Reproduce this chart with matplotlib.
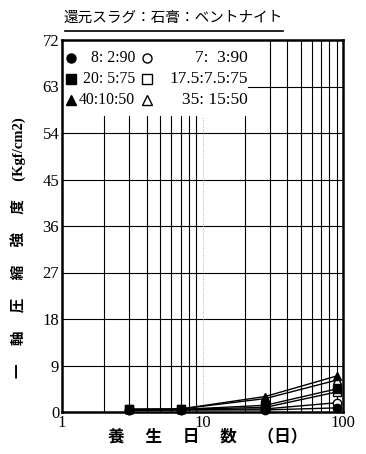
import matplotlib.pyplot as plt
import numpy as np

plt.rcParams['font.family'] = ['Liberation Serif', 'Noto Sans CJK JP']

days = [3, 7, 28, 91]
series_names = ['8: 2:90', '7:  3:90', '20: 5:75', '17.5:7.5:75', '40:10:50', '35: 15:50']
strength = [
    [0.3, 0.4, 0.4, 0.8],   # filled circle
    [0.3, 0.4, 0.6, 1.8],   # open circle
    [0.5, 0.5, 1.3, 4.5],   # filled square
    [0.5, 0.5, 0.9, 3.9],   # open square
    [0.5, 0.6, 3.0, 7.0],   # filled triangle
    [0.5, 0.6, 2.6, 6.2],   # open triangle
]
markers = ['o', 'o', 's', 's', '^', '^']
filled = [True, False, True, False, True, False]
y_ticks = [0, 9, 18, 27, 36, 45, 54, 63, 72]

fig = plt.figure(figsize=(3.66, 4.54), dpi=100)
ax = fig.add_axes([62 / 366, 1 - 412 / 454, 281 / 366, 372 / 454])
ax.set_xscale('log')
ax.set_xlim(1, 100)
ax.set_ylim(0, 72)

# grid (legend area in the upper left is blank)
for y in y_ticks[1:-1]:
    xmin = 186 / 281 if y == 63 else 0
    ax.axhline(y, xmin=xmin, color='black', lw=0.8, zorder=1)
for d in list(range(2, 10)) + list(range(20, 100, 10)):
    top = 1.0 if d >= 30 else 57.3 / 72
    ax.axvline(d, ymax=top, color='black', lw=0.8, zorder=1)
ax.axvline(10, ymax=57.3 / 72, color='0.6', lw=0.6, ls=':', zorder=1)

order = [5, 3, 1, 4, 2, 0]
for k, i in enumerate(order):
    ax.plot(days, strength[i], color='black', lw=1.0, marker=markers[i], ms=6,
            mfc='black' if filled[i] else 'white', mec='black', mew=1.0,
            zorder=3 + k * 0.1, clip_on=False)

for s in ax.spines.values():
    s.set_linewidth(1.8)
ax.set_yticks(y_ticks)
ax.set_xticks([1, 10, 100])
ax.set_xticklabels(['1', '10', '100'])
ax.minorticks_off()
ax.tick_params(length=0, labelsize=12, pad=2)

# legend text
rows = [(58, 0), (79, 2), (100, 4)]
for ypix, i in rows:
    yy = 1 - (ypix - 40) / 372
    ax.plot([9 / 281], [yy], transform=ax.transAxes, marker=markers[i], ms=6.5,
            mfc='black', mec='black', ls='none', clip_on=False, zorder=5)
    ax.text(73 / 281, yy, series_names[i], transform=ax.transAxes, fontsize=11.3,
            va='center', ha='right')
    ax.plot([85 / 281], [yy], transform=ax.transAxes, marker=markers[i + 1], ms=6.5,
            mfc='white', mec='black', ls='none', clip_on=False, zorder=5)
    ax.text(186 / 281, yy, series_names[i + 1], transform=ax.transAxes, fontsize=12.5,
            va='center', ha='right')

fig.text(173 / 366, 1 - 18 / 454, '還元スラグ：石膏：ベントナイト', ha='center', va='center',
         fontsize=10.5, family=['Noto Sans CJK JP'])
fig.add_artist(plt.Line2D([65 / 366, 283 / 366], [1 - 31 / 454, 1 - 31 / 454], color='black', lw=1.2))

fig.text(18 / 366, 1 - 248 / 454, '一　 軸　 圧　 縮　 強　 度　 (Kgf/cm2)', rotation=90,
         ha='center', va='center', fontsize=10.5, fontweight='bold')
fig.text(208 / 366, 1 - 438 / 454, '養　 生　 日　 数　 （日）', ha='center', va='center',
         fontsize=12, fontweight='bold')

fig.savefig('out.png', dpi=100)
